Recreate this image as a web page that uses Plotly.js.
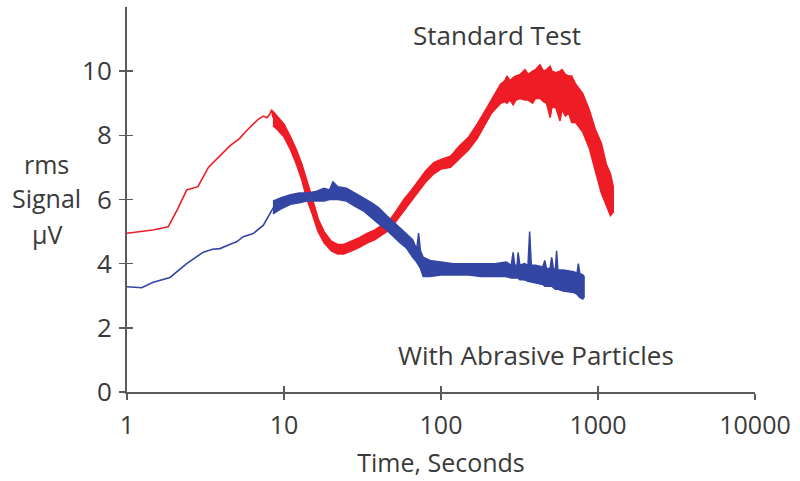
<!DOCTYPE html>
<html>
<head>
<meta charset="utf-8">
<script src="https://cdn.plot.ly/plotly-3.0.1.min.js"></script>
<style>html,body{margin:0;padding:0;background:#fff;}#chart{width:800px;height:481px;}</style>
</head>
<body>
<div id="chart"></div>
<script>
// ---- Data ----
const xTickVals = [1, 10, 100, 1000, 10000];
const xTickText = ["1", "10", "100", "1000", "10000"];
const yTickVals = [0, 2, 4, 6, 8, 10];
const yTitleLines = ["rms", "Signal", "μV"];

// Standard Test (red): thin early part
const redThinT = [1, 1.2, 1.46, 1.83, 2.1, 2.4, 2.83, 3.3, 3.8, 4.52, 5.2, 5.79, 6.85, 7.4, 7.77, 8.1, 8.36, 8.5];
const redThinY = [4.95, 5.0, 5.05, 5.15, 5.7, 6.3, 6.4, 7.0, 7.3, 7.67, 7.9, 8.15, 8.5, 8.6, 8.55, 8.65, 8.8, 8.55];
// Standard Test (red): noisy thick part, upper / lower envelope
const redBandT = [8.5, 9, 10, 11, 12, 13, 14, 15, 16.5, 18, 20, 22, 24, 27, 30, 34, 38, 42, 47, 52, 58, 65, 72, 80, 90, 100, 115, 130, 150, 170, 190, 210, 240, 255, 263, 275, 288, 300, 320, 343, 360, 383, 400, 427, 450, 470, 496, 510, 540, 573, 590, 620, 650, 680, 720, 800, 880, 960, 1050, 1130, 1200, 1250];
const redUpper = [8.75, 8.6, 8.35, 7.95, 7.55, 7.1, 6.6, 6.1, 5.4, 5.0, 4.7, 4.6, 4.6, 4.7, 4.8, 4.95, 5.05, 5.2, 5.35, 5.65, 6.0, 6.3, 6.6, 6.9, 7.15, 7.25, 7.35, 7.65, 7.95, 8.35, 8.75, 9.1, 9.6, 9.7, 9.85, 9.7, 9.8, 9.85, 9.9, 10.05, 9.9, 10.0, 10.05, 10.2, 10.0, 10.05, 10.15, 10.0, 9.95, 10.0, 10.05, 9.9, 9.85, 9.85, 9.6, 9.3, 8.8, 8.2, 7.75, 7.1, 6.8, 6.4];
const redLower = [8.3, 8.2, 7.95, 7.55, 7.1, 6.6, 6.0, 5.6, 5.0, 4.65, 4.4, 4.3, 4.3, 4.4, 4.5, 4.65, 4.75, 4.9, 5.05, 5.3, 5.65, 5.95, 6.25, 6.55, 6.8, 6.95, 7.0, 7.25, 7.55, 7.9, 8.3, 8.7, 9.0, 9.05, 9.0, 9.1, 8.95, 9.1, 9.15, 9.1, 9.1, 9.0, 9.15, 9.15, 9.05, 9.0, 8.55, 8.9, 8.85, 8.45, 8.8, 8.6, 8.7, 8.4, 8.4, 8.1, 7.6, 6.9, 6.2, 5.8, 5.5, 5.6];

// With Abrasive Particles (blue): thin early part
const blueThinT = [1, 1.24, 1.47, 1.88, 2.4, 3.06, 3.5, 3.91, 4.5, 4.99, 5.5, 6.37, 7.39, 8.56];
const blueThinY = [3.28, 3.25, 3.42, 3.57, 4.0, 4.36, 4.45, 4.47, 4.6, 4.68, 4.84, 4.94, 5.2, 5.75];
// With Abrasive Particles (blue): noisy thick part, upper / lower envelope
const blueBandT = [8.5, 9.5, 11, 12.5, 14, 16, 18, 19.5, 20.5, 22, 25, 28, 32, 36, 40, 45, 50, 55, 60, 66, 70, 72, 74, 77, 85, 100, 120, 150, 180, 220, 260, 280, 288, 295, 305, 310, 318, 340, 358, 367, 376, 400, 445, 458, 470, 495, 507, 520, 535, 545, 555, 600, 700, 735, 750, 765, 800, 815];
const blueUpper = [5.95, 6.05, 6.15, 6.2, 6.2, 6.25, 6.35, 6.3, 6.55, 6.4, 6.35, 6.2, 6.05, 5.9, 5.75, 5.5, 5.3, 5.1, 4.95, 4.75, 4.45, 4.95, 4.4, 4.2, 4.1, 4.05, 4.0, 4.0, 4.0, 4.0, 4.05, 3.95, 4.35, 3.95, 3.95, 4.35, 3.95, 4.0, 3.95, 5.0, 3.95, 3.95, 3.9, 4.1, 3.85, 3.85, 4.2, 3.85, 3.8, 4.4, 3.8, 3.8, 3.75, 3.7, 4.0, 3.7, 3.65, 3.6];
const blueLower = [5.55, 5.7, 5.85, 5.9, 5.95, 5.95, 5.95, 6.0, 6.0, 6.0, 5.95, 5.8, 5.65, 5.45, 5.25, 5.05, 4.85, 4.65, 4.5, 4.2, 4.05, 3.95, 3.85, 3.6, 3.6, 3.65, 3.65, 3.65, 3.6, 3.6, 3.6, 3.55, 3.55, 3.55, 3.55, 3.55, 3.5, 3.5, 3.45, 3.45, 3.45, 3.4, 3.35, 3.3, 3.3, 3.3, 3.3, 3.25, 3.2, 3.2, 3.2, 3.15, 3.1, 3.05, 3.0, 2.95, 2.9, 2.95];

const RED = "#ee1c25";
const BLUE = "#3346a3";

function band(t, up, lo) {
  return {
    x: t.concat(t.slice().reverse()),
    y: up.concat(lo.slice().reverse())
  };
}
const rb = band(redBandT, redUpper, redLower);
const bb = band(blueBandT, blueUpper, blueLower);

const traces = [
  {x: redThinT, y: redThinY, type: "scatter", mode: "lines", line: {color: RED, width: 1.6}, hoverinfo: "skip"},
  {x: rb.x, y: rb.y, type: "scatter", mode: "lines", fill: "toself", fillcolor: RED, line: {color: RED, width: 1.5}, hoverinfo: "skip"},
  {x: blueThinT, y: blueThinY, type: "scatter", mode: "lines", line: {color: BLUE, width: 1.6}, hoverinfo: "skip"},
  {x: bb.x, y: bb.y, type: "scatter", mode: "lines", fill: "toself", fillcolor: BLUE, line: {color: BLUE, width: 1.5}, hoverinfo: "skip"},
  {x: [1], y: [0], xaxis: "x2", yaxis: "y2", type: "scatter", mode: "markers", marker: {opacity: 0}, hoverinfo: "skip"}
];

const FONT = "'Open Sans', Lato, sans-serif";
const TXT = "#3a3a3a";
const AX = "#5a5a5a";

const yTitleYs = [0.593, 0.504, 0.41];
const yTitleAnn = yTitleLines.map((s, i) => ({
  text: s, xref: "paper", yref: "paper", x: -0.1274, y: yTitleYs[i],
  xanchor: "center", yanchor: "middle", showarrow: false, font: {size: 25, color: TXT}
}));

const layout = {
  width: 800, height: 481,
  margin: {l: 127, r: 45, t: 7, b: 89},
  paper_bgcolor: "#fff", plot_bgcolor: "#fff",
  showlegend: false,
  font: {family: FONT, color: TXT},
  xaxis: {
    type: "log", range: [0, 4],
    tickvals: xTickVals, ticktext: xTickText,
    ticks: "outside", ticklen: 6, tickwidth: 1.5, tickcolor: AX,
    showline: true, linecolor: AX, linewidth: 2,
    showgrid: false, zeroline: false,
    ticklabelstandoff: 4,
    tickfont: {size: 25, color: TXT},
    title: {text: "Time, Seconds", font: {size: 25, color: TXT}, standoff: 14}
  },
  yaxis: {
    range: [0, 12],
    tickvals: yTickVals,
    ticks: "outside", ticklen: 6, tickwidth: 1.5, tickcolor: AX,
    showline: true, linecolor: AX, linewidth: 2,
    showgrid: false, zeroline: false,
    ticklabelstandoff: 2,
    tickfont: {size: 26, color: TXT}
  },
  xaxis2: {
    type: "log", range: [0, 4], overlaying: "x",
    tickvals: xTickVals, showticklabels: false,
    ticks: "inside", ticklen: 6, tickwidth: 1.5, tickcolor: AX,
    showline: false, showgrid: false, zeroline: false
  },
  yaxis2: {
    range: [0, 12], overlaying: "y",
    tickvals: yTickVals, showticklabels: false,
    ticks: "inside", ticklen: 6, tickwidth: 1.5, tickcolor: AX,
    showline: false, showgrid: false, zeroline: false
  },
  annotations: [
    {text: "Standard Test", xref: "paper", yref: "paper", x: 0.589, y: 0.927, xanchor: "center", yanchor: "middle", showarrow: false, font: {size: 26, color: TXT}},
    {text: "With Abrasive Particles", xref: "paper", yref: "paper", x: 0.651, y: 0.096, xanchor: "center", yanchor: "middle", showarrow: false, font: {size: 26, color: TXT}}
  ].concat(yTitleAnn)
};

Plotly.newPlot("chart", traces, layout, {displayModeBar: false, staticPlot: true});
</script>
</body>
</html>
